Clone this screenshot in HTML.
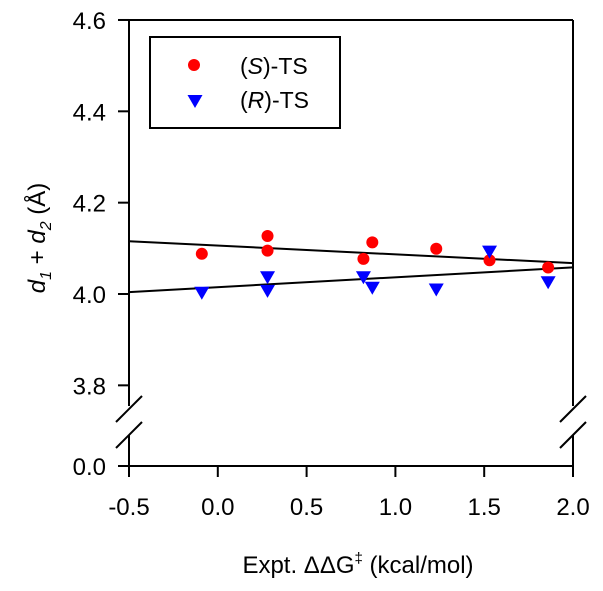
<!DOCTYPE html>
<html><head><meta charset="utf-8"><style>
body{margin:0;background:#fff}
svg{display:block;font-family:"Liberation Sans",sans-serif}
</style></head><body>
<svg id="c" width="603" height="591"></svg>
<script>
const xTicks=[-0.5,0.0,0.5,1.0,1.5,2.0];
const yTicks=[3.8,4.0,4.2,4.4,4.6];
const sX=[-0.09,0.28,0.28,0.87,0.82,1.23,1.53,1.86];
const sY=[4.088,4.127,4.095,4.113,4.077,4.099,4.074,4.058];
const rX=[-0.09,0.28,0.28,0.82,0.87,1.23,1.53,1.86];
const rY=[4.005,4.039,4.009,4.039,4.016,4.012,4.095,4.028];
const fitS=[4.106,-0.0192];
const fitR=[4.015,0.0216];
const NS='http://www.w3.org/2000/svg';
const svg=document.getElementById('c');
const L=129,R=573,B=466;
function X(v){return L+(v+0.5)*(R-L)/2.5;}
function Y(v){return 294-(v-4.0)*456.7;}
function el(t,a,p){const e=document.createElementNS(NS,t);for(const k in a)e.setAttribute(k,a[k]);(p||svg).appendChild(e);return e;}
const ax={stroke:'#000','stroke-width':2,fill:'none'};
let e;
e=el('line',Object.assign({x1:L,y1:20,x2:L,y2:406},ax));
e=el('line',Object.assign({x1:L,y1:435,x2:L,y2:B+11},ax));
e=el('line',Object.assign({x1:R,y1:20,x2:R,y2:406},ax));
e=el('line',Object.assign({x1:R,y1:435,x2:R,y2:B+11},ax));
e=el('line',Object.assign({x1:L,y1:20,x2:R,y2:20},ax));
e=el('line',Object.assign({x1:L-11,y1:B,x2:R,y2:B},ax));
[L,R].forEach(x=>{[0,26].forEach(d=>{
 e=el('line',Object.assign({x1:x-13,y1:422+d,x2:x+13,y2:396+d},ax));
});});
xTicks.forEach(v=>{
 e=el('line',Object.assign({x1:X(v),y1:B,x2:X(v),y2:B+11},ax));
 e=el('text',{x:X(v),y:B+49,'text-anchor':'middle','font-size':24});e.textContent=v.toFixed(1);
});
yTicks.forEach(v=>{
 e=el('line',Object.assign({x1:L-11,y1:Y(v),x2:L,y2:Y(v)},ax));
 e=el('text',{x:L-23,y:Y(v)+9,'text-anchor':'end','font-size':24});e.textContent=v.toFixed(1);
});
e=el('text',{x:L-23,y:B+9,'text-anchor':'end','font-size':24});e.textContent='0.0';
[fitS,fitR].forEach((f,i)=>{
 e=el('line',{x1:X(-0.5),y1:Y(f[0]-0.5*f[1]),x2:X(2),y2:Y(f[0]+2*f[1]),stroke:'#000','stroke-width':2});
 
});
sX.forEach((x,i)=>{e=el('circle',{cx:X(x),cy:Y(sY[i]),r:6,fill:'#f00'});});
function tri(cx,cy){return `${cx-7.5},${cy-5} ${cx+7.5},${cy-5} ${cx},${cy+8}`;}
rX.forEach((x,i)=>{e=el('polygon',{points:tri(X(x),Y(rY[i])),fill:'#00f'});});
const lg=el('g',{});
el('rect',{x:150,y:37,width:190,height:91,fill:'#fff',stroke:'#000','stroke-width':2},lg);
e=el('circle',{cx:194,cy:65,r:6,fill:'#f00'},lg);
e=el('polygon',{points:tri(195,100),fill:'#00f'},lg);
e=el('text',{x:240,y:74,'font-size':23},lg);e.innerHTML='(<tspan font-style="italic">S</tspan>)-TS';
e=el('text',{x:240,y:108,'font-size':23},lg);e.innerHTML='(<tspan font-style="italic">R</tspan>)-TS';
e=el('text',{x:358,y:573,'text-anchor':'middle','font-size':24});e.innerHTML='Expt. ΔΔG<tspan font-size="15" dy="-10">‡</tspan><tspan dy="10"> (kcal/mol)</tspan>';
e=el('text',{x:0,y:0,'text-anchor':'middle','font-size':24,transform:'translate(45,238) rotate(-90)'});
e.innerHTML='<tspan font-style="italic">d</tspan><tspan font-size="16" dy="6" font-style="italic">1</tspan><tspan dy="-6"> + </tspan><tspan font-style="italic">d</tspan><tspan font-size="16" dy="6" font-style="italic">2</tspan><tspan dy="-6"> (Å)</tspan>';

</script>
</body></html>
